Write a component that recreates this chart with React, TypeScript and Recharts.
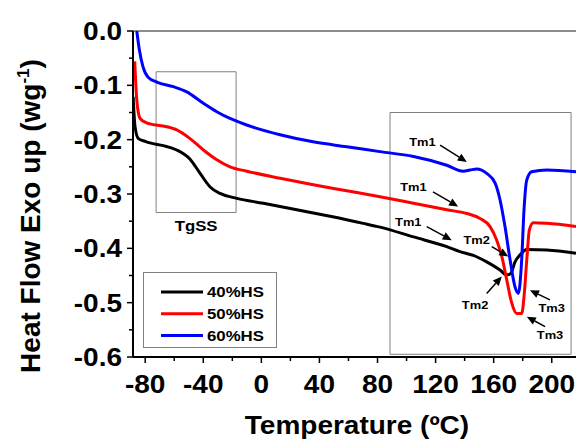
import {
  LineChart,
  Line,
  XAxis,
  YAxis,
  Legend,
  ReferenceArea,
  ReferenceLine,
  ReferenceDot,
} from "recharts"

// ── Data ──────────────────────────────────────────────────────────────────────

const t40 = [-88.3, -87, -84.7, -80, -76.7, -67.5, -58.3, -49.1, -42.2, -35.3, -28.4, -16.9, 1.4, 24.4, 47.3, 70.2, 81.7, 104.8, 127.7, 136.8, 146, 155.2, 164.4, 169, 171.8, 174.7, 178.2, 182.8, 196.6, 216.7]
const hf40 = [-0.121, -0.176, -0.198, -0.203, -0.206, -0.211, -0.219, -0.236, -0.262, -0.287, -0.299, -0.308, -0.317, -0.329, -0.341, -0.354, -0.361, -0.379, -0.397, -0.406, -0.413, -0.425, -0.44, -0.449, -0.446, -0.425, -0.412, -0.402, -0.403, -0.409]

const t50 = [-87.2, -85.8, -83.5, -79, -76.7, -67.5, -58.3, -49.1, -39.9, -30.7, -21.6, -10.1, 12.9, 35.8, 58.8, 81.7, 104.8, 127.7, 141.5, 150.6, 157.5, 162.1, 165.6, 169, 172.5, 175.9, 179.3, 181.1, 182.8, 184.6, 187.3, 196.6, 216.7]
const hf50 = [-0.056, -0.127, -0.161, -0.169, -0.171, -0.175, -0.182, -0.198, -0.219, -0.237, -0.25, -0.258, -0.271, -0.283, -0.294, -0.305, -0.317, -0.329, -0.336, -0.345, -0.36, -0.385, -0.415, -0.458, -0.501, -0.52, -0.52, -0.483, -0.421, -0.366, -0.353, -0.354, -0.36]

const t60 = [-85.8, -84, -81.5, -78, -72, -60.6, -51.4, -39.9, -30.7, -21.6, -10.1, 12.9, 35.6, 58.8, 81.7, 104.8, 127.7, 139.1, 143.7, 148.3, 155.2, 161, 164.4, 167.8, 171.3, 174.7, 177, 179.3, 180.9, 182.8, 186.2, 196.6, 216.7]
const hf60 = [0, -0.035, -0.066, -0.085, -0.094, -0.1025, -0.112, -0.133, -0.1485, -0.161, -0.173, -0.191, -0.204, -0.213, -0.222, -0.231, -0.247, -0.258, -0.256, -0.254, -0.262, -0.28, -0.311, -0.36, -0.421, -0.471, -0.483, -0.421, -0.329, -0.274, -0.259, -0.256, -0.259]

const xTicks = [-80, -60, -40, -20, 0, 20, 40, 60, 80, 100, 120, 140, 160, 180, 200]
const yTicks = [0, -0.05, -0.1, -0.15, -0.2, -0.25, -0.3, -0.35, -0.4, -0.45, -0.5, -0.55, -0.6]

// melting-peak callouts: label centre, arrow tail, arrow tip (°C, W/g)
const notes = [
  { text: "Tm1", at: [110.9, -0.204], from: [123.1, -0.21], to: [141.5, -0.241] },
  { text: "Tm1", at: [104.7, -0.287], from: [118.2, -0.296], to: [135.5, -0.323] },
  { text: "Tm1", at: [101.2, -0.351], from: [113.9, -0.36], to: [131.1, -0.385] },
  { text: "Tm2", at: [148.3, -0.385], from: [158.7, -0.397], to: [170.1, -0.415] },
  { text: "Tm2", at: [147.2, -0.504], from: [155.2, -0.483], to: [165.6, -0.452] },
  { text: "Tm3", at: [200, -0.51], from: [198.8, -0.495], to: [185, -0.477] },
  { text: "Tm3", at: [198.8, -0.56], from: [195.4, -0.544], to: [182.8, -0.526] },
]

const zip = (t: number[], hf: number[]) => t.map((x, i) => ({ t: x, hf: hf[i] }))

const series = [
  { name: "40%HS", color: "#000000", data: zip(t40, hf40) },
  { name: "50%HS", color: "#ff0000", data: zip(t50, hf50) },
  { name: "60%HS", color: "#0000ff", data: zip(t60, hf60) },
]

// ── Helpers ───────────────────────────────────────────────────────────────────

const FONT = '"Liberation Sans", Arial, sans-serif'
const SX = 1.12 // glyphs are a little wide in this figure

function SText({ x, y, size, anchor = "middle", children }: any) {
  return (
    <text
      x={x}
      y={y}
      textAnchor={anchor}
      fontFamily={FONT}
      fontWeight={700}
      fontSize={size}
      fill="#000"
      transform={`translate(${x} 0) scale(${SX} 1) translate(${-x} 0)`}
    >
      {children}
    </text>
  )
}

function XTick({ x, y, payload }: any) {
  const v = payload.value
  const major = v % 40 === 0
  return (
    <g>
      <line x1={x} x2={x} y1={y} y2={y + (major ? 6 : 4)} stroke="#000" strokeWidth={1.5} />
      {major && <SText x={x} y={y + 36} size={25}>{v}</SText>}
    </g>
  )
}

function YTick({ x, y, payload }: any) {
  const v = payload.value
  const major = Math.round(v * 100) % 10 === 0
  return (
    <g>
      <line x1={x} x2={x - (major ? 6 : 4)} y1={y} y2={y} stroke="#000" strokeWidth={1.5} />
      {major && <SText x={x - 11} y={y + 9} size={25} anchor="end">{v.toFixed(1)}</SText>}
    </g>
  )
}

function Arrow({ x1, y1, x2, y2 }: any) {
  const len = Math.hypot(x2 - x1, y2 - y1)
  const ux = (x2 - x1) / len
  const uy = (y2 - y1) / len
  const bx = x2 - ux * 9
  const by = y2 - uy * 9
  return (
    <g>
      <line x1={x1} y1={y1} x2={bx} y2={by} stroke="#000" strokeWidth={1.5} />
      <polygon
        points={`${x2},${y2} ${bx - uy * 4},${by + ux * 4} ${bx + uy * 4},${by - ux * 4}`}
        fill="#000"
      />
    </g>
  )
}

function LegendBox({ payload }: any) {
  const items = payload?.length ? payload : series.map((s) => ({ value: s.name, color: s.color }))
  return (
    <svg width={134} height={76} style={{ display: "block" }}>
      <rect x={0.5} y={0.5} width={133} height={75} fill="#fff" stroke="#808080" />
      {items.map((it: any, i: number) => {
        const cy = 20 + i * 21.8
        return (
          <g key={it.value}>
            <line x1={18} x2={60} y1={cy} y2={cy} stroke={it.color} strokeWidth={3} />
            <SText x={64} y={cy + 5.5} size={15} anchor="start">{it.value}</SText>
          </g>
        )
      })}
    </svg>
  )
}

// ── Chart ─────────────────────────────────────────────────────────────────────

export default function App() {
  return (
    <div style={{ position: "absolute", left: 0, top: 0, width: 576, height: 440, background: "#fff" }}>
      <LineChart width={576} height={440} margin={{ top: 31, right: 0, bottom: 0, left: 0 }}>
        <XAxis
          type="number"
          dataKey="t"
          domain={[-88.4, 216.7]}
          allowDataOverflow
          ticks={xTicks}
          interval={0}
          height={83}
          tickSize={0}
          tickMargin={0}
          tickLine={false}
          tick={<XTick />}
          axisLine={{ stroke: "#000", strokeWidth: 2 }}
          label={{
            content: () => <SText x={357} y={434} size={25}>Temperature (ºC)</SText>,
          }}
        />
        <YAxis
          type="number"
          domain={[-0.6, 0]}
          allowDataOverflow
          ticks={yTicks}
          interval={0}
          width={133}
          tickSize={0}
          tickMargin={0}
          tickLine={false}
          tick={<YTick />}
          axisLine={{ stroke: "#000", strokeWidth: 2 }}
          label={{
            content: () => (
              <text
                transform="translate(40 216) rotate(-90)"
                textAnchor="middle"
                fontFamily={FONT}
                fontWeight={700}
                fontSize={28}
                fill="#000"
              >
                Heat Flow Exo up (wg
                <tspan dy={-11} fontSize={17}>-1</tspan>
                <tspan dy={11}>)</tspan>
              </text>
            ),
          }}
        />

        <ReferenceLine y={0} stroke="#666" strokeWidth={1.5} />

        <ReferenceArea
          x1={-72.5}
          x2={-17.4}
          y1={-0.334}
          y2={-0.075}
          fill="none"
          stroke="#808080"
          strokeWidth={1}
          ifOverflow="visible"
          label={{
            content: ({ viewBox }: any) => (
              <SText x={viewBox.x + viewBox.width / 2} y={viewBox.y + viewBox.height + 19} size={15}>
                TgSS
              </SText>
            ),
          }}
        />
        <ReferenceArea
          x1={88.6}
          x2={213.3}
          y1={-0.595}
          y2={-0.15}
          fill="none"
          stroke="#808080"
          strokeWidth={1}
          ifOverflow="visible"
        />

        {series.map((s) => (
          <Line
            key={s.name}
            name={s.name}
            data={s.data}
            dataKey="hf"
            type="monotone"
            stroke={s.color}
            strokeWidth={3}
            dot={false}
            activeDot={false}
            isAnimationActive={false}
          />
        ))}

        {notes.map((n, i) => (
          <ReferenceLine
            key={`a${i}`}
            segment={[
              { x: n.from[0], y: n.from[1] },
              { x: n.to[0], y: n.to[1] },
            ]}
            ifOverflow="visible"
            shape={(p: any) => <Arrow {...p} />}
          />
        ))}
        {notes.map((n, i) => (
          <ReferenceDot
            key={`t${i}`}
            x={n.at[0]}
            y={n.at[1]}
            r={0}
            fill="none"
            stroke="none"
            ifOverflow="visible"
            label={{
              content: ({ viewBox }: any) => (
                <SText x={viewBox.x + viewBox.width / 2} y={viewBox.y + viewBox.height / 2 + 4.2} size={11.5}>
                  {n.text}
                </SText>
              ),
            }}
          />
        ))}

        <Legend
          layout="vertical"
          align="center"
          verticalAlign="middle"
          wrapperStyle={{ left: 143, top: 272, width: 134, height: 76 }}
          content={(props: any) => <LegendBox payload={props.payload} />}
        />
      </LineChart>
    </div>
  )
}
